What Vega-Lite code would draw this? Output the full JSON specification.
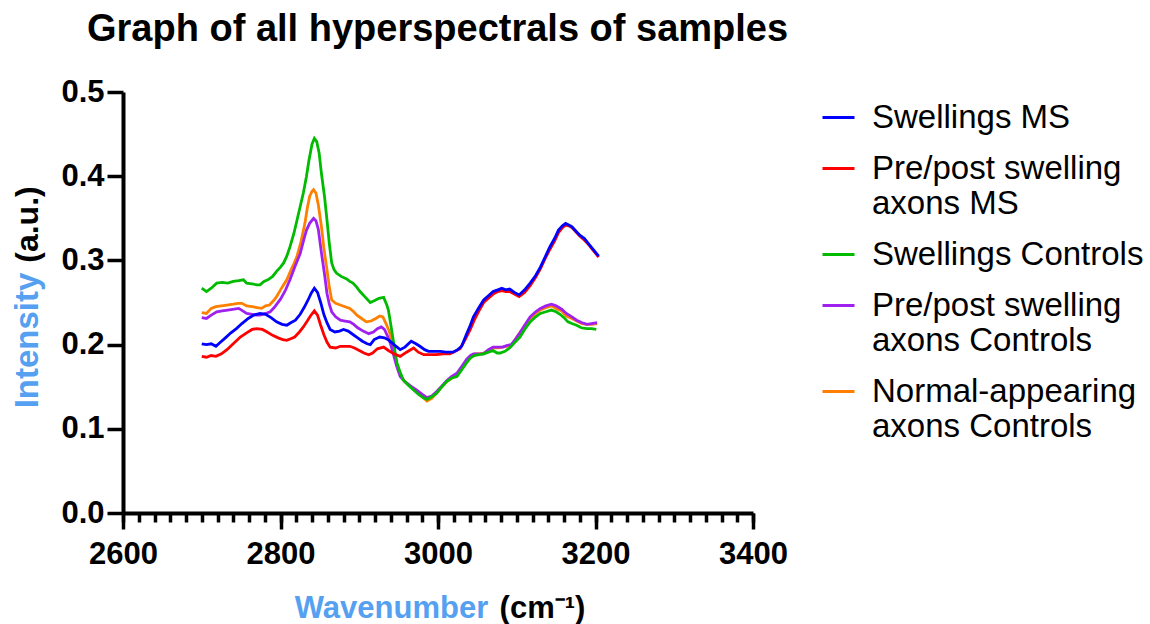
{
"$schema": "https://vega.github.io/schema/vega-lite/v6.json",
"width": 630, "height": 421,
"autosize": "none",
"padding": {"left": 123, "top": 92, "right": 397, "bottom": 111},
"background": "white",
"config": {"view": {"stroke": null}, "font": "Liberation Sans"},
"title": {"text": "Graph of all hyperspectrals of samples", "anchor": "start", "frame": "group", "dx": -36, "fontSize": 38, "fontWeight": "bold", "font": "Liberation Sans", "color": "black", "baseline": "alphabetic", "offset": -3},
"datasets": {
"series": [
{"k": "B", "name": "Swellings MS"},
{"k": "R", "name": "Pre/post swelling\naxons MS"},
{"k": "G", "name": "Swellings Controls"},
{"k": "P", "name": "Pre/post swelling\naxons Controls"},
{"k": "O", "name": "Normal-appearing\naxons Controls"}
],
"pts": [
{"k":"O","w":2700,"v":0.238},{"k":"O","w":2706,"v":0.237},{"k":"O","w":2712,"v":0.243},{"k":"O","w":2718,"v":0.245},{"k":"O","w":2725,"v":0.246},{"k":"O","w":2732,"v":0.247},{"k":"O","w":2740,"v":0.248},{"k":"O","w":2746,"v":0.249},{"k":"O","w":2751,"v":0.249},{"k":"O","w":2757,"v":0.246},{"k":"O","w":2764,"v":0.245},{"k":"O","w":2770,"v":0.244},{"k":"O","w":2776,"v":0.243},{"k":"O","w":2781,"v":0.246},{"k":"O","w":2786,"v":0.247},{"k":"O","w":2791,"v":0.252},{"k":"O","w":2795,"v":0.257},{"k":"O","w":2800,"v":0.265},{"k":"O","w":2804,"v":0.271},{"k":"O","w":2808,"v":0.277},{"k":"O","w":2813,"v":0.288},{"k":"O","w":2817,"v":0.296},{"k":"O","w":2821,"v":0.305},{"k":"O","w":2826,"v":0.322},{"k":"O","w":2831,"v":0.344},{"k":"O","w":2834,"v":0.362},{"k":"O","w":2837,"v":0.376},{"k":"O","w":2840,"v":0.382},{"k":"O","w":2842,"v":0.384},{"k":"O","w":2845,"v":0.38},{"k":"O","w":2848,"v":0.366},{"k":"O","w":2852,"v":0.34},{"k":"O","w":2855,"v":0.315},{"k":"O","w":2859,"v":0.289},{"k":"O","w":2862,"v":0.268},{"k":"O","w":2865,"v":0.253},{"k":"O","w":2870,"v":0.249},{"k":"O","w":2876,"v":0.247},{"k":"O","w":2882,"v":0.245},{"k":"O","w":2888,"v":0.243},{"k":"O","w":2893,"v":0.239},{"k":"O","w":2897,"v":0.235},{"k":"O","w":2903,"v":0.231},{"k":"O","w":2909,"v":0.227},{"k":"O","w":2915,"v":0.228},{"k":"O","w":2921,"v":0.231},{"k":"O","w":2926,"v":0.234},{"k":"O","w":2930,"v":0.233},{"k":"O","w":2934,"v":0.225},{"k":"O","w":2938,"v":0.216},{"k":"O","w":2941,"v":0.206},{"k":"O","w":2945,"v":0.19},{"k":"O","w":2948,"v":0.174},{"k":"O","w":2952,"v":0.164},{"k":"O","w":2957,"v":0.157},{"k":"O","w":2965,"v":0.15},{"k":"O","w":2973,"v":0.144},{"k":"O","w":2980,"v":0.138},{"k":"O","w":2986,"v":0.133},{"k":"O","w":2992,"v":0.136},{"k":"O","w":2998,"v":0.142},{"k":"O","w":3005,"v":0.15},{"k":"O","w":3011,"v":0.156},{"k":"O","w":3017,"v":0.16},{"k":"O","w":3024,"v":0.164},{"k":"O","w":3030,"v":0.172},{"k":"O","w":3036,"v":0.18},{"k":"O","w":3041,"v":0.186},{"k":"O","w":3047,"v":0.189},{"k":"O","w":3053,"v":0.189},{"k":"O","w":3058,"v":0.19},{"k":"O","w":3064,"v":0.193},{"k":"O","w":3070,"v":0.196},{"k":"O","w":3076,"v":0.196},{"k":"O","w":3082,"v":0.197},{"k":"O","w":3087,"v":0.198},{"k":"O","w":3093,"v":0.199},{"k":"O","w":3098,"v":0.206},{"k":"O","w":3104,"v":0.214},{"k":"O","w":3110,"v":0.222},{"k":"O","w":3117,"v":0.231},{"k":"O","w":3124,"v":0.237},{"k":"O","w":3130,"v":0.241},{"k":"O","w":3137,"v":0.244},{"k":"O","w":3144,"v":0.246},{"k":"O","w":3150,"v":0.243},{"k":"O","w":3157,"v":0.24},{"k":"O","w":3163,"v":0.234},{"k":"O","w":3170,"v":0.231},{"k":"O","w":3176,"v":0.228},{"k":"O","w":3183,"v":0.225},{"k":"O","w":3189,"v":0.224},{"k":"O","w":3195,"v":0.224},{"k":"O","w":3202,"v":0.225},
{"k":"P","w":2700,"v":0.232},{"k":"P","w":2706,"v":0.231},{"k":"P","w":2712,"v":0.235},{"k":"P","w":2719,"v":0.239},{"k":"P","w":2726,"v":0.24},{"k":"P","w":2733,"v":0.241},{"k":"P","w":2741,"v":0.242},{"k":"P","w":2747,"v":0.243},{"k":"P","w":2752,"v":0.24},{"k":"P","w":2757,"v":0.237},{"k":"P","w":2764,"v":0.236},{"k":"P","w":2770,"v":0.235},{"k":"P","w":2774,"v":0.235},{"k":"P","w":2781,"v":0.237},{"k":"P","w":2787,"v":0.239},{"k":"P","w":2792,"v":0.244},{"k":"P","w":2796,"v":0.249},{"k":"P","w":2800,"v":0.254},{"k":"P","w":2806,"v":0.264},{"k":"P","w":2812,"v":0.277},{"k":"P","w":2818,"v":0.292},{"k":"P","w":2825,"v":0.308},{"k":"P","w":2830,"v":0.326},{"k":"P","w":2833,"v":0.336},{"k":"P","w":2837,"v":0.344},{"k":"P","w":2842,"v":0.35},{"k":"P","w":2845,"v":0.347},{"k":"P","w":2848,"v":0.337},{"k":"P","w":2852,"v":0.309},{"k":"P","w":2856,"v":0.283},{"k":"P","w":2859,"v":0.261},{"k":"P","w":2862,"v":0.248},{"k":"P","w":2865,"v":0.239},{"k":"P","w":2870,"v":0.233},{"k":"P","w":2876,"v":0.229},{"k":"P","w":2882,"v":0.228},{"k":"P","w":2888,"v":0.227},{"k":"P","w":2893,"v":0.224},{"k":"P","w":2898,"v":0.22},{"k":"P","w":2905,"v":0.216},{"k":"P","w":2912,"v":0.213},{"k":"P","w":2918,"v":0.215},{"k":"P","w":2923,"v":0.219},{"k":"P","w":2928,"v":0.221},{"k":"P","w":2932,"v":0.218},{"k":"P","w":2936,"v":0.21},{"k":"P","w":2940,"v":0.2},{"k":"P","w":2943,"v":0.19},{"k":"P","w":2947,"v":0.176},{"k":"P","w":2952,"v":0.162},{"k":"P","w":2958,"v":0.156},{"k":"P","w":2965,"v":0.151},{"k":"P","w":2973,"v":0.146},{"k":"P","w":2980,"v":0.141},{"k":"P","w":2986,"v":0.137},{"k":"P","w":2992,"v":0.139},{"k":"P","w":2998,"v":0.144},{"k":"P","w":3005,"v":0.151},{"k":"P","w":3011,"v":0.157},{"k":"P","w":3017,"v":0.162},{"k":"P","w":3024,"v":0.166},{"k":"P","w":3030,"v":0.174},{"k":"P","w":3036,"v":0.182},{"k":"P","w":3041,"v":0.187},{"k":"P","w":3045,"v":0.189},{"k":"P","w":3051,"v":0.189},{"k":"P","w":3058,"v":0.189},{"k":"P","w":3064,"v":0.194},{"k":"P","w":3070,"v":0.197},{"k":"P","w":3076,"v":0.197},{"k":"P","w":3082,"v":0.197},{"k":"P","w":3088,"v":0.199},{"k":"P","w":3093,"v":0.2},{"k":"P","w":3098,"v":0.206},{"k":"P","w":3104,"v":0.214},{"k":"P","w":3110,"v":0.223},{"k":"P","w":3117,"v":0.233},{"k":"P","w":3124,"v":0.239},{"k":"P","w":3130,"v":0.243},{"k":"P","w":3137,"v":0.246},{"k":"P","w":3144,"v":0.248},{"k":"P","w":3150,"v":0.246},{"k":"P","w":3157,"v":0.242},{"k":"P","w":3163,"v":0.237},{"k":"P","w":3170,"v":0.233},{"k":"P","w":3176,"v":0.229},{"k":"P","w":3183,"v":0.226},{"k":"P","w":3189,"v":0.224},{"k":"P","w":3195,"v":0.225},{"k":"P","w":3202,"v":0.226},
{"k":"G","w":2700,"v":0.267},{"k":"G","w":2706,"v":0.263},{"k":"G","w":2712,"v":0.267},{"k":"G","w":2719,"v":0.273},{"k":"G","w":2726,"v":0.274},{"k":"G","w":2733,"v":0.273},{"k":"G","w":2740,"v":0.275},{"k":"G","w":2747,"v":0.276},{"k":"G","w":2753,"v":0.277},{"k":"G","w":2757,"v":0.273},{"k":"G","w":2764,"v":0.272},{"k":"G","w":2770,"v":0.271},{"k":"G","w":2774,"v":0.271},{"k":"G","w":2779,"v":0.275},{"k":"G","w":2784,"v":0.277},{"k":"G","w":2790,"v":0.281},{"k":"G","w":2795,"v":0.287},{"k":"G","w":2800,"v":0.292},{"k":"G","w":2804,"v":0.297},{"k":"G","w":2808,"v":0.305},{"k":"G","w":2812,"v":0.316},{"k":"G","w":2817,"v":0.332},{"k":"G","w":2821,"v":0.348},{"k":"G","w":2825,"v":0.364},{"k":"G","w":2829,"v":0.38},{"k":"G","w":2833,"v":0.4},{"k":"G","w":2836,"v":0.418},{"k":"G","w":2840,"v":0.438},{"k":"G","w":2843,"v":0.445},{"k":"G","w":2846,"v":0.441},{"k":"G","w":2849,"v":0.428},{"k":"G","w":2852,"v":0.403},{"k":"G","w":2856,"v":0.375},{"k":"G","w":2859,"v":0.348},{"k":"G","w":2862,"v":0.32},{"k":"G","w":2865,"v":0.297},{"k":"G","w":2868,"v":0.289},{"k":"G","w":2871,"v":0.285},{"k":"G","w":2877,"v":0.281},{"k":"G","w":2884,"v":0.278},{"k":"G","w":2888,"v":0.275},{"k":"G","w":2892,"v":0.273},{"k":"G","w":2897,"v":0.268},{"k":"G","w":2901,"v":0.263},{"k":"G","w":2907,"v":0.257},{"k":"G","w":2914,"v":0.25},{"k":"G","w":2919,"v":0.252},{"k":"G","w":2925,"v":0.255},{"k":"G","w":2931,"v":0.256},{"k":"G","w":2935,"v":0.247},{"k":"G","w":2937,"v":0.241},{"k":"G","w":2940,"v":0.224},{"k":"G","w":2943,"v":0.206},{"k":"G","w":2946,"v":0.188},{"k":"G","w":2948,"v":0.178},{"k":"G","w":2952,"v":0.167},{"k":"G","w":2956,"v":0.158},{"k":"G","w":2962,"v":0.152},{"k":"G","w":2969,"v":0.146},{"k":"G","w":2975,"v":0.141},{"k":"G","w":2981,"v":0.137},{"k":"G","w":2986,"v":0.135},{"k":"G","w":2992,"v":0.138},{"k":"G","w":2998,"v":0.142},{"k":"G","w":3005,"v":0.15},{"k":"G","w":3011,"v":0.156},{"k":"G","w":3017,"v":0.16},{"k":"G","w":3024,"v":0.162},{"k":"G","w":3030,"v":0.17},{"k":"G","w":3036,"v":0.178},{"k":"G","w":3041,"v":0.184},{"k":"G","w":3046,"v":0.187},{"k":"G","w":3052,"v":0.188},{"k":"G","w":3058,"v":0.189},{"k":"G","w":3064,"v":0.191},{"k":"G","w":3070,"v":0.193},{"k":"G","w":3075,"v":0.19},{"k":"G","w":3079,"v":0.19},{"k":"G","w":3085,"v":0.192},{"k":"G","w":3091,"v":0.196},{"k":"G","w":3097,"v":0.202},{"k":"G","w":3104,"v":0.209},{"k":"G","w":3110,"v":0.218},{"k":"G","w":3117,"v":0.227},{"k":"G","w":3124,"v":0.233},{"k":"G","w":3130,"v":0.237},{"k":"G","w":3137,"v":0.239},{"k":"G","w":3144,"v":0.241},{"k":"G","w":3150,"v":0.239},{"k":"G","w":3155,"v":0.236},{"k":"G","w":3160,"v":0.232},{"k":"G","w":3165,"v":0.227},{"k":"G","w":3170,"v":0.225},{"k":"G","w":3176,"v":0.223},{"k":"G","w":3182,"v":0.22},{"k":"G","w":3189,"v":0.219},{"k":"G","w":3195,"v":0.219},{"k":"G","w":3201,"v":0.218},
{"k":"R","w":2700,"v":0.186},{"k":"R","w":2706,"v":0.185},{"k":"R","w":2712,"v":0.187},{"k":"R","w":2718,"v":0.186},{"k":"R","w":2725,"v":0.189},{"k":"R","w":2732,"v":0.194},{"k":"R","w":2740,"v":0.201},{"k":"R","w":2749,"v":0.209},{"k":"R","w":2757,"v":0.214},{"k":"R","w":2764,"v":0.218},{"k":"R","w":2770,"v":0.219},{"k":"R","w":2777,"v":0.218},{"k":"R","w":2783,"v":0.215},{"k":"R","w":2790,"v":0.211},{"k":"R","w":2797,"v":0.208},{"k":"R","w":2803,"v":0.206},{"k":"R","w":2808,"v":0.205},{"k":"R","w":2813,"v":0.207},{"k":"R","w":2818,"v":0.209},{"k":"R","w":2824,"v":0.215},{"k":"R","w":2829,"v":0.221},{"k":"R","w":2834,"v":0.228},{"k":"R","w":2838,"v":0.234},{"k":"R","w":2843,"v":0.24},{"k":"R","w":2847,"v":0.235},{"k":"R","w":2851,"v":0.223},{"k":"R","w":2855,"v":0.212},{"k":"R","w":2859,"v":0.203},{"k":"R","w":2863,"v":0.197},{"k":"R","w":2870,"v":0.196},{"k":"R","w":2876,"v":0.198},{"k":"R","w":2882,"v":0.198},{"k":"R","w":2888,"v":0.198},{"k":"R","w":2894,"v":0.196},{"k":"R","w":2900,"v":0.193},{"k":"R","w":2906,"v":0.19},{"k":"R","w":2912,"v":0.188},{"k":"R","w":2917,"v":0.19},{"k":"R","w":2923,"v":0.195},{"k":"R","w":2931,"v":0.197},{"k":"R","w":2937,"v":0.193},{"k":"R","w":2944,"v":0.189},{"k":"R","w":2952,"v":0.186},{"k":"R","w":2960,"v":0.191},{"k":"R","w":2969,"v":0.196},{"k":"R","w":2975,"v":0.191},{"k":"R","w":2982,"v":0.188},{"k":"R","w":2990,"v":0.188},{"k":"R","w":2998,"v":0.188},{"k":"R","w":3007,"v":0.189},{"k":"R","w":3015,"v":0.189},{"k":"R","w":3022,"v":0.192},{"k":"R","w":3028,"v":0.195},{"k":"R","w":3034,"v":0.205},{"k":"R","w":3041,"v":0.218},{"k":"R","w":3046,"v":0.229},{"k":"R","w":3052,"v":0.24},{"k":"R","w":3058,"v":0.25},{"k":"R","w":3064,"v":0.255},{"k":"R","w":3070,"v":0.26},{"k":"R","w":3076,"v":0.263},{"k":"R","w":3081,"v":0.264},{"k":"R","w":3086,"v":0.263},{"k":"R","w":3091,"v":0.263},{"k":"R","w":3097,"v":0.26},{"k":"R","w":3103,"v":0.257},{"k":"R","w":3110,"v":0.262},{"k":"R","w":3117,"v":0.27},{"k":"R","w":3124,"v":0.28},{"k":"R","w":3130,"v":0.29},{"k":"R","w":3136,"v":0.302},{"k":"R","w":3142,"v":0.313},{"k":"R","w":3148,"v":0.323},{"k":"R","w":3153,"v":0.333},{"k":"R","w":3158,"v":0.339},{"k":"R","w":3162,"v":0.342},{"k":"R","w":3166,"v":0.341},{"k":"R","w":3170,"v":0.339},{"k":"R","w":3175,"v":0.334},{"k":"R","w":3180,"v":0.329},{"k":"R","w":3186,"v":0.324},{"k":"R","w":3191,"v":0.319},{"k":"R","w":3197,"v":0.312},{"k":"R","w":3204,"v":0.304},
{"k":"B","w":2700,"v":0.201},{"k":"B","w":2706,"v":0.2},{"k":"B","w":2712,"v":0.201},{"k":"B","w":2718,"v":0.198},{"k":"B","w":2724,"v":0.203},{"k":"B","w":2730,"v":0.208},{"k":"B","w":2737,"v":0.214},{"k":"B","w":2744,"v":0.219},{"k":"B","w":2751,"v":0.225},{"k":"B","w":2759,"v":0.231},{"k":"B","w":2766,"v":0.235},{"k":"B","w":2774,"v":0.237},{"k":"B","w":2781,"v":0.236},{"k":"B","w":2788,"v":0.232},{"k":"B","w":2795,"v":0.227},{"k":"B","w":2802,"v":0.224},{"k":"B","w":2808,"v":0.223},{"k":"B","w":2813,"v":0.226},{"k":"B","w":2819,"v":0.229},{"k":"B","w":2825,"v":0.236},{"k":"B","w":2830,"v":0.244},{"k":"B","w":2835,"v":0.253},{"k":"B","w":2839,"v":0.261},{"k":"B","w":2843,"v":0.267},{"k":"B","w":2847,"v":0.262},{"k":"B","w":2851,"v":0.25},{"k":"B","w":2855,"v":0.236},{"k":"B","w":2859,"v":0.226},{"k":"B","w":2863,"v":0.218},{"k":"B","w":2869,"v":0.215},{"k":"B","w":2875,"v":0.216},{"k":"B","w":2880,"v":0.218},{"k":"B","w":2886,"v":0.216},{"k":"B","w":2892,"v":0.212},{"k":"B","w":2898,"v":0.208},{"k":"B","w":2904,"v":0.204},{"k":"B","w":2910,"v":0.201},{"k":"B","w":2914,"v":0.2},{"k":"B","w":2919,"v":0.206},{"k":"B","w":2926,"v":0.209},{"k":"B","w":2932,"v":0.208},{"k":"B","w":2938,"v":0.205},{"k":"B","w":2944,"v":0.2},{"k":"B","w":2952,"v":0.194},{"k":"B","w":2958,"v":0.197},{"k":"B","w":2966,"v":0.204},{"k":"B","w":2972,"v":0.201},{"k":"B","w":2977,"v":0.198},{"k":"B","w":2983,"v":0.194},{"k":"B","w":2988,"v":0.192},{"k":"B","w":2995,"v":0.192},{"k":"B","w":3003,"v":0.192},{"k":"B","w":3010,"v":0.191},{"k":"B","w":3019,"v":0.191},{"k":"B","w":3025,"v":0.194},{"k":"B","w":3030,"v":0.198},{"k":"B","w":3036,"v":0.212},{"k":"B","w":3041,"v":0.223},{"k":"B","w":3045,"v":0.233},{"k":"B","w":3052,"v":0.244},{"k":"B","w":3058,"v":0.253},{"k":"B","w":3064,"v":0.258},{"k":"B","w":3070,"v":0.263},{"k":"B","w":3076,"v":0.265},{"k":"B","w":3081,"v":0.267},{"k":"B","w":3086,"v":0.265},{"k":"B","w":3091,"v":0.266},{"k":"B","w":3097,"v":0.262},{"k":"B","w":3103,"v":0.259},{"k":"B","w":3110,"v":0.265},{"k":"B","w":3117,"v":0.273},{"k":"B","w":3124,"v":0.282},{"k":"B","w":3130,"v":0.292},{"k":"B","w":3136,"v":0.304},{"k":"B","w":3142,"v":0.316},{"k":"B","w":3148,"v":0.326},{"k":"B","w":3153,"v":0.336},{"k":"B","w":3158,"v":0.341},{"k":"B","w":3162,"v":0.344},{"k":"B","w":3166,"v":0.342},{"k":"B","w":3170,"v":0.34},{"k":"B","w":3175,"v":0.335},{"k":"B","w":3180,"v":0.33},{"k":"B","w":3186,"v":0.326},{"k":"B","w":3191,"v":0.32},{"k":"B","w":3197,"v":0.313},{"k":"B","w":3204,"v":0.305}
]
},
"data": {"name": "pts"},
"transform": [{"lookup": "k", "from": {"data": {"name": "series"}, "key": "k", "fields": ["name"]}}],
"layer": [
{
"mark": {"type": "line", "strokeWidth": 2.8},
"encoding": {
"x": {"field": "w", "type": "quantitative", "scale": {"domain": [2600, 3400], "nice": false, "zero": false},
"axis": {"orient": "bottom", "values": [2600, 2800, 3000, 3200, 3400], "format": "d", "tickSize": 16, "tickWidth": 3.5, "tickColor": "black", "domainWidth": 4, "domainColor": "black", "labelFontSize": 31, "labelFontWeight": "bold", "labelColor": "black", "labelFont": "Liberation Sans", "labelPadding": 10, "labelFlush": false, "labelOverlap": false, "grid": false, "title": "Wavenumber", "titleColor": "#55A0F0", "titleFont": "Liberation Sans", "titleFontSize": 31, "titleFontWeight": "bold", "titleX": 268, "titleY": 104, "titleBaseline": "alphabetic", "titleAlign": "center"}},
"y": {"field": "v", "type": "quantitative", "scale": {"domain": [0, 0.5], "nice": false},
"axis": {"orient": "left", "values": [0, 0.1, 0.2, 0.3, 0.4, 0.5], "format": ".1f", "tickSize": 16, "tickWidth": 3.5, "tickColor": "black", "domainWidth": 4, "domainColor": "black", "labelFontSize": 31, "labelFontWeight": "bold", "labelColor": "black", "labelFont": "Liberation Sans", "labelPadding": 3, "labelOverlap": false, "grid": false, "title": "Intensity", "titleColor": "#55A0F0", "titleFont": "Liberation Sans", "titleFontSize": 33, "titleFontWeight": "bold", "titleAngle": -90, "titleX": -86, "titleY": 248, "titleBaseline": "alphabetic", "titleAlign": "center"}},
"color": {"field": "name", "type": "nominal",
"scale": {"domain": ["Swellings MS", "Pre/post swelling\naxons MS", "Swellings Controls", "Pre/post swelling\naxons Controls", "Normal-appearing\naxons Controls"], "range": ["#0000FF", "#FF0000", "#00BB00", "#A020F0", "#FF8000"]},
"legend": {"orient": "none", "legendX": 698, "legendY": 8, "title": null, "padding": 0, "symbolType": "stroke", "symbolSize": 1024, "symbolStrokeWidth": 3, "labelFontSize": 33, "labelFont": "Liberation Sans", "labelColor": "black", "labelOffset": 16, "labelLimit": 500, "rowPadding": 16, "labelExpr": "split(datum.label, '\\n')"}}
}
},
{
"mark": {"type": "line", "strokeOpacity": 0},
"encoding": {
"x": {"field": "w", "type": "quantitative", "scale": {"domain": [2600, 3400], "nice": false, "zero": false},
"axis": {"orient": "bottom", "values": [2600,2620,2640,2660,2680,2700,2720,2740,2760,2780,2800,2820,2840,2860,2880,2900,2920,2940,2960,2980,3000,3020,3040,3060,3080,3100,3120,3140,3160,3180,3200,3220,3240,3260,3280,3300,3320,3340,3360,3380,3400], "labels": false, "domain": false, "tickSize": 9, "tickWidth": 3.5, "tickColor": "black", "grid": false, "title": "(cm⁻¹)", "titleColor": "black", "titleFont": "Liberation Sans", "titleFontSize": 31, "titleFontWeight": "bold", "titleX": 419, "titleY": 104, "titleBaseline": "alphabetic", "titleAlign": "center"}},
"y": {"field": "v", "type": "quantitative", "scale": {"domain": [0, 0.5], "nice": false},
"axis": {"orient": "left", "labels": false, "ticks": false, "domain": false, "grid": false, "title": "(a.u.)", "titleColor": "black", "titleFont": "Liberation Sans", "titleFontSize": 32, "titleFontWeight": "bold", "titleAngle": -90, "titleX": -86, "titleY": 132, "titleBaseline": "alphabetic", "titleAlign": "center"}},
"detail": {"field": "k"}
}
}
],
"resolve": {"axis": {"x": "independent", "y": "independent"}}
}
